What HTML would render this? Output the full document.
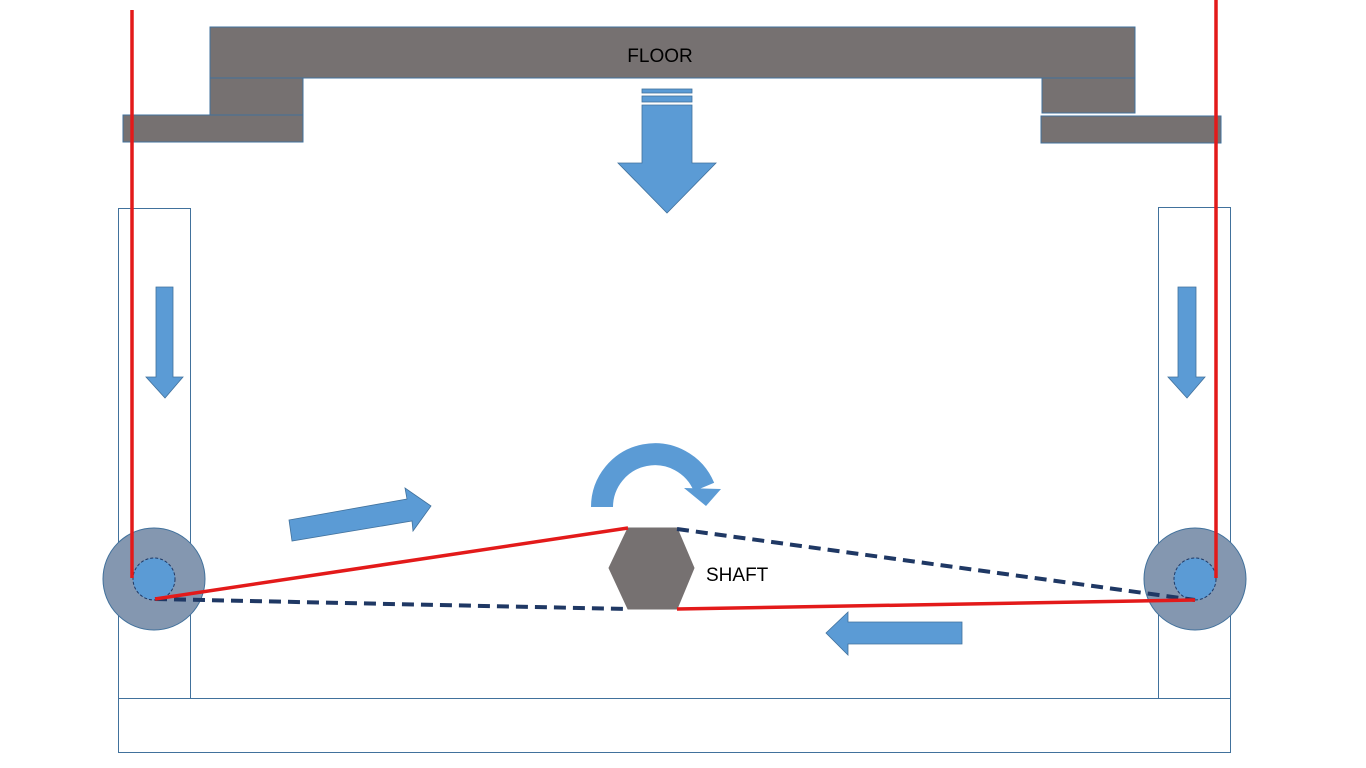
<!DOCTYPE html>
<html><head><style>html,body{margin:0;padding:0;background:#fff}svg{display:block}</style></head>
<body>
<svg width="1366" height="768" viewBox="0 0 1366 768" xmlns="http://www.w3.org/2000/svg">
<g fill="#767171" stroke="#41719c" stroke-width="1">
<rect x="210" y="27" width="925" height="51"/>
<rect x="210" y="78" width="93" height="37"/>
<rect x="123" y="115" width="180" height="27"/>
<rect x="1042" y="78" width="93" height="35"/>
<rect x="1041" y="116" width="180" height="27"/>
</g>
<text x="660" y="62" font-family="Liberation Sans, sans-serif" font-size="19" text-anchor="middle" fill="#000">FLOOR</text>
<g fill="none" stroke="#41719c" stroke-width="1">
<rect x="118.5" y="208.5" width="72" height="490"/>
<rect x="1158.5" y="207.5" width="72" height="491"/>
<rect x="118.5" y="698.5" width="1112" height="54"/>
</g>
<g fill="#5b9bd5" stroke="#41719c" stroke-width="0.8">
<rect x="642" y="89" width="50" height="4"/>
<rect x="642" y="96" width="50" height="6"/>
<polygon points="642,105 692,105 692,163 716,163 667,213 618,163 642,163"/>
<polygon points="156,287 173,287 173,377 183,377 165,398 146,377 156,377"/>
<polygon points="1178,287 1196,287 1196,377 1205,377 1187,398 1168,377 1178,377"/>
<polygon points="289,520 407,499 405,488 431,506 413,531 412,521 292,541"/>
<polygon points="962,622 962,644 848,644 848,655 826,633 848,612 848,622"/>
</g>
<path d="M602,507 A53,53 0 0 1 704,487" fill="none" stroke="#5b9bd5" stroke-width="22"/>
<polygon points="684,488 721,489 706,506" fill="#5b9bd5"/>
<circle cx="154" cy="579" r="51" fill="#8497b0" stroke="#41719c"/>
<circle cx="154" cy="579" r="21" fill="#5b9bd5" stroke="#1f3864" stroke-dasharray="3,2"/>
<circle cx="1195" cy="579" r="51" fill="#8497b0" stroke="#41719c"/>
<circle cx="1195" cy="579" r="21" fill="#5b9bd5" stroke="#1f3864" stroke-dasharray="3,2"/>
<polygon points="628,528 677,528 694,568 677,609 628,609 609,568" fill="#767171" stroke="#767171"/>
<text x="706" y="581" font-family="Liberation Sans, sans-serif" font-size="19" fill="#000">SHAFT</text>
<g stroke="#1f3864" stroke-width="4" stroke-dasharray="12,7" fill="none">
<line x1="155" y1="599" x2="628" y2="609"/>
<line x1="677" y1="529" x2="1195" y2="600"/>
</g>
<g stroke="#e31a1a" stroke-width="3.5" fill="none">
<line x1="132" y1="10" x2="132" y2="578"/>
<line x1="1216" y1="0" x2="1216" y2="578"/>
<line x1="155" y1="599" x2="628" y2="528"/>
<line x1="677" y1="609" x2="1195" y2="600"/>
</g>
</svg>
</body></html>
